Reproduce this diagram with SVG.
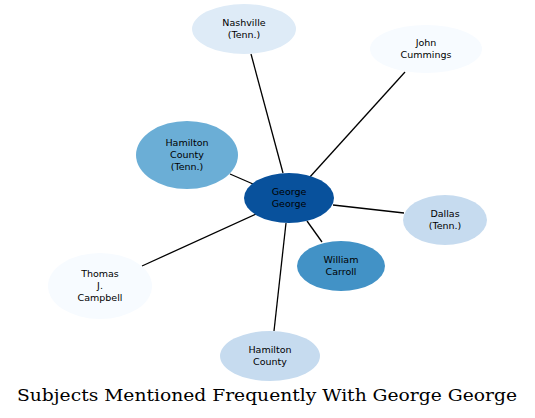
<svg xmlns="http://www.w3.org/2000/svg" width="535" height="418" viewBox="0 0 535 418">
<style>
.n text{font-family:"DejaVu Sans",sans-serif;font-size:9.5px;fill:#000;text-anchor:middle}
.e line{stroke:#000;stroke-width:1.3}
.t{font-family:"DejaVu Serif",serif;font-size:16px;text-anchor:middle;fill:#000}
</style>
<rect width="535" height="418" fill="#fff"/>
<g id="edges" class="e">
<line x1="283" y1="173" x2="251" y2="54"/>
<line x1="309" y1="178" x2="405" y2="72"/>
<line x1="253" y1="184" x2="230" y2="174"/>
<line x1="333" y1="205" x2="404" y2="213"/>
<line x1="307" y1="221" x2="322" y2="242"/>
<line x1="256" y1="214" x2="142" y2="266"/>
<line x1="286" y1="223" x2="274" y2="331"/>
</g>
<g id="george" class="n"><ellipse cx="289" cy="198" rx="45" ry="25" fill="#08519c"/><text x="289" y="195">George</text><text x="289" y="207">George</text></g>
<g id="nashville" class="n"><ellipse cx="244" cy="29" rx="52" ry="25" fill="#deebf7"/><text x="244" y="26">Nashville</text><text x="244" y="38">(Tenn.)</text></g>
<g id="john" class="n"><ellipse cx="426" cy="49" rx="56" ry="24" fill="#f7fbff"/><text x="426" y="46">John</text><text x="426" y="58">Cummings</text></g>
<g id="hamtenn" class="n"><ellipse cx="187" cy="155" rx="51" ry="34" fill="#6baed6"/><text x="187" y="146">Hamilton</text><text x="187" y="158">County</text><text x="187" y="170">(Tenn.)</text></g>
<g id="dallas" class="n"><ellipse cx="445" cy="220" rx="42" ry="25" fill="#c6dbef"/><text x="445" y="217">Dallas</text><text x="445" y="229">(Tenn.)</text></g>
<g id="william" class="n"><ellipse cx="341" cy="266" rx="44" ry="25" fill="#4292c6"/><text x="341" y="263">William</text><text x="341" y="275">Carroll</text></g>
<g id="thomas" class="n"><ellipse cx="100" cy="286" rx="52" ry="33" fill="#f7fbff"/><text x="100" y="277">Thomas</text><text x="100" y="289">J.</text><text x="100" y="301">Campbell</text></g>
<g id="hamcounty" class="n"><ellipse cx="270" cy="356" rx="50" ry="25" fill="#c6dbef"/><text x="270" y="353">Hamilton</text><text x="270" y="365">County</text></g>
<text class="t" x="267" y="401" textLength="500" lengthAdjust="spacingAndGlyphs">Subjects Mentioned Frequently With George George</text>
</svg>
